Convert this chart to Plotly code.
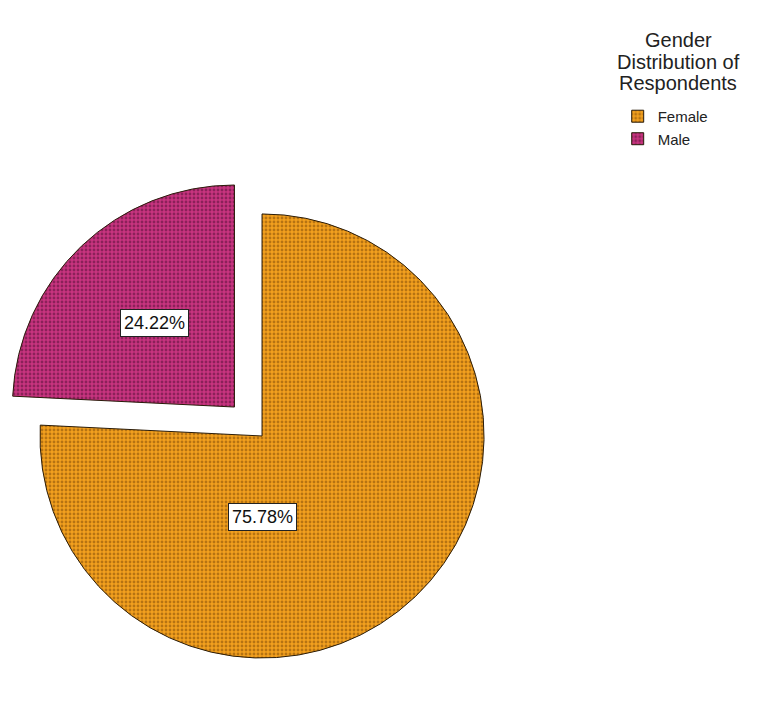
import math
import plotly.graph_objects as go

# ---- data ----
labels = ["Female", "Male"]
percents = [75.78, 24.22]
legend_title_lines = ["Gender", "Distribution of", "Respondents"]

# ---- style ----
W, H = 776, 704
colors = ["#F2A01E", "#C8347F"]
dot_colors = ["#7A4606", "#4E0E34"]
pulls = [0, 0.18]
dom_x = [0.0, 0.6753]
dom_y = [0.0085, 0.7529]
label_angle = [180.0, None]      # None -> slice bisector (deg clockwise from 12 o'clock)
label_radius = [0.365, 0.52]     # fraction of radius
title_cx, title_top, title_step = 678, 40, 21.5

fig = go.Figure()
fig.add_trace(go.Pie(
    labels=labels,
    values=percents,
    sort=False,
    direction="clockwise",
    rotation=0,
    pull=pulls,
    textinfo="none",
    hoverinfo="label+percent",
    domain=dict(x=dom_x, y=dom_y),
    marker=dict(
        colors=colors,
        line=dict(color="#2A1C0A", width=1),
        pattern=dict(shape=".", fgcolor=dot_colors, bgcolor=colors,
                     fillmode="overlay", size=4, solidity=0.4),
    ),
))

# label boxes computed from the pie geometry
Wd = W * (dom_x[1] - dom_x[0])
Hd = H * (dom_y[1] - dom_y[0])
r = min(Wd, Hd) / (2 * (1 + max(pulls)))
cx = W * (dom_x[0] + dom_x[1]) / 2
cy = H * (1 - (dom_y[0] + dom_y[1]) / 2)
total = sum(percents)
start = 0.0
annotations = []
for i, v in enumerate(percents):
    frac = v / total
    mid = (start + frac / 2) * 2 * math.pi
    dx, dy = math.sin(mid), -math.cos(mid)
    pcx = cx + pulls[i] * r * dx
    pcy = cy + pulls[i] * r * dy
    ang = mid if label_angle[i] is None else math.radians(label_angle[i])
    lx = pcx + label_radius[i] * r * math.sin(ang)
    ly = pcy - label_radius[i] * r * math.cos(ang)
    annotations.append(dict(
        x=lx / W, y=1 - ly / H, xref="paper", yref="paper",
        xanchor="center", yanchor="middle",
        text=f"{v:.2f}%", showarrow=False,
        font=dict(family="Liberation Sans, Arial", size=18, color="#111111"),
        bgcolor="white", bordercolor="#222222", borderwidth=1, borderpad=3,
    ))
    start += frac

# legend title (centered lines)
for j, line in enumerate(legend_title_lines):
    annotations.append(dict(
        x=title_cx / W, y=1 - (title_top + j * title_step) / H,
        xref="paper", yref="paper", xanchor="center", yanchor="middle",
        text=line, showarrow=False,
        font=dict(family="Liberation Sans, Arial", size=20, color="#222222"),
    ))

fig.update_layout(
    width=W, height=H,
    margin=dict(l=0, r=0, t=0, b=0),
    paper_bgcolor="white",
    plot_bgcolor="white",
    font=dict(family="Liberation Sans, Arial", color="#222222"),
    annotations=annotations,
    showlegend=True,
    legend=dict(
        x=0.796, y=0.858, xanchor="left", yanchor="top",
        font=dict(size=15, color="#222222"),
        bgcolor="rgba(0,0,0,0)",
        tracegroupgap=0,
    ),
)

fig.write_html("out.html")
